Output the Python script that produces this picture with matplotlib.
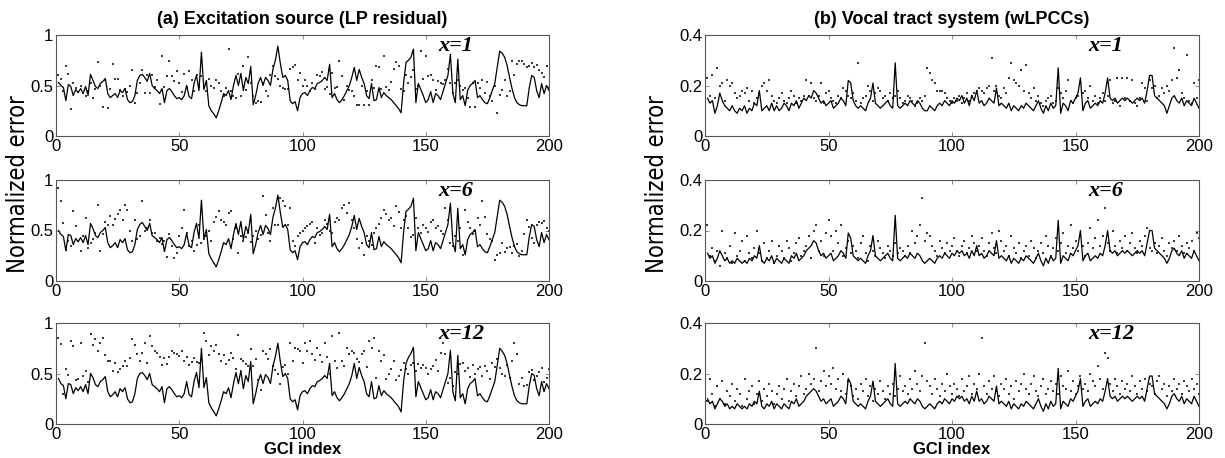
import matplotlib
matplotlib.use('Agg')
import matplotlib.pyplot as plt
from matplotlib import font_manager as fm
import numpy as np

# ---------------- data ----------------
gci = np.arange(1, 201)

# (a) Excitation source (LP residual)
lp_x1_line = [.53,.50,.48,.35,.51,.49,.40,.46,.43,.47, .42,.49,.40,.61,.55,.49,.47,.52,.54,.57,
              .42,.38,.40,.42,.38,.45,.43,.47,.36,.33, .34,.40,.55,.60,.61,.58,.54,.62,.50,.47,
              .45,.42,.47,.33,.45,.47,.44,.40,.37,.38, .36,.40,.50,.39,.37,.52,.60,.45,.83,.46,
              .55,.30,.25,.22,.18,.25,.33,.42,.40,.45, .36,.50,.60,.50,.62,.45,.58,.52,.69,.31,
              .40,.52,.58,.50,.58,.55,.50,.66,.75,.89, .72,.58,.60,.55,.35,.32,.34,.25,.38,.42,
              .43,.40,.45,.48,.47,.52,.53,.55,.58,.55, .71,.38,.42,.36,.33,.36,.40,.45,.50,.58,
              .68,.55,.66,.58,.52,.40,.37,.52,.35,.36, .48,.38,.43,.40,.38,.36,.33,.30,.27,.23,
              .52,.73,.75,.78,.86,.33,.52,.46,.40,.33, .36,.44,.33,.42,.40,.36,.44,.52,.60,.81,
              .42,.33,.76,.36,.40,.30,.45,.50,.52,.55, .38,.40,.36,.33,.32,.38,.45,.52,.68,.84,
              .82,.78,.70,.58,.47,.38,.33,.31,.30,.30, .30,.48,.60,.58,.45,.38,.52,.42,.50,.45]
lp_x1_dots = [.60,.56,.45,.69,.61,.27,.52,.48,.44,.50, .43,.40,.45,.52,.38,.47,.73,.50,.29,.55,
              .28,.47,.71,.56,.56,.46,.40,.47,.44,.50, .65,.33,.43,.52,.65,.43,.60,.43,.60,.49,
              .55,.32,.79,.49,.59,.74,.59,.54,.64,.52, .44,.61,.49,.64,.55,.45,.60,.49,.59,.49,
              .45,.56,.50,.48,.55,.52,.45,.40,.48,.86, .45,.40,.38,.61,.40,.69,.46,.78,.52,.40,
              .33,.35,.34,.52,.45,.40,.60,.69,.59,.56, .50,.48,.47,.47,.66,.68,.70,.55,.62,.50,
              .55,.50,.45,.52,.47,.60,.59,.63,.47,.49, .42,.62,.48,.49,.74,.59,.36,.50,.46,.45,
              .40,.31,.31,.50,.31,.45,.31,.55,.48,.69, .68,.47,.79,.49,.46,.53,.66,.73,.69,.47,
              .45,.60,.52,.58,.65,.47,.50,.84,.56,.79, .59,.60,.55,.46,.54,.52,.51,.55,.66,.52,
              .43,.52,.55,.50,.46,.48,.38,.29,.52,.29, .52,.48,.55,.43,.53,.40,.35,.50,.23,.41,
              .46,.55,.40,.45,.74,.60,.71,.74,.74,.71, .68,.69,.72,.68,.70,.65,.62,.58,.69,.48]
lp_x6_line = [.50,.46,.44,.30,.46,.45,.36,.42,.39,.43, .38,.45,.36,.57,.52,.45,.43,.48,.50,.53,
              .38,.33,.35,.38,.33,.41,.38,.42,.31,.28, .29,.36,.51,.56,.58,.54,.50,.57,.45,.43,
              .41,.38,.43,.29,.41,.43,.40,.36,.33,.34, .32,.36,.47,.35,.33,.48,.57,.42,.80,.42,
              .51,.27,.22,.18,.14,.21,.29,.38,.36,.42, .32,.46,.57,.46,.59,.41,.54,.48,.66,.27,
              .36,.48,.55,.46,.55,.52,.46,.63,.72,.85, .68,.53,.56,.51,.31,.28,.30,.21,.34,.38,
              .39,.36,.41,.44,.43,.48,.49,.51,.54,.51, .66,.34,.38,.32,.29,.32,.36,.41,.46,.54,
              .65,.51,.62,.54,.48,.36,.33,.48,.31,.32, .44,.34,.39,.36,.34,.32,.29,.26,.23,.18,
              .48,.69,.71,.74,.82,.30,.48,.42,.36,.30, .32,.40,.30,.38,.36,.32,.40,.48,.56,.77,
              .38,.29,.72,.32,.36,.26,.41,.46,.48,.51, .34,.36,.32,.29,.28,.34,.41,.48,.64,.80,
              .78,.74,.66,.54,.43,.34,.29,.27,.26,.26, .26,.44,.56,.54,.41,.34,.48,.38,.46,.41]
lp_x6_dots = [.92,.79,.57,.31,.40,.35,.69,.54,.40,.30, .45,.62,.33,.38,.42,.48,.75,.30,.47,.58,
              .55,.64,.55,.61,.66,.70,.60,.75,.70,.50, .40,.60,.42,.45,.79,.50,.52,.60,.48,.48,
              .40,.43,.37,.40,.24,.47,.35,.23,.28,.45, .52,.70,.48,.35,.40,.30,.36,.55,.38,.42,
              .45,.50,.40,.58,.63,.69,.60,.58,.55,.67, .69,.42,.52,.28,.45,.40,.44,.48,.39,.45,
              .50,.42,.46,.84,.65,.48,.40,.72,.55,.55, .82,.79,.74,.55,.72,.40,.35,.45,.48,.50,
              .52,.54,.56,.58,.38,.52,.46,.48,.60,.56, .50,.48,.58,.62,.60,.72,.75,.67,.77,.60,
              .52,.42,.33,.38,.26,.45,.40,.36,.48,.52, .56,.62,.70,.66,.60,.62,.54,.74,.68,.52,
              .60,.64,.52,.44,.46,.62,.52,.48,.55,.52, .49,.58,.60,.52,.54,.50,.47,.72,.60,.38,
              .35,.45,.40,.52,.26,.70,.58,.52,.47,.50, .62,.55,.79,.63,.47,.42,.40,.21,.26,.28,
              .38,.29,.33,.34,.28,.35,.37,.25,.30,.47, .60,.53,.43,.38,.55,.58,.57,.59,.52,.50]
lp_x12_line = [.45,.40,.38,.25,.40,.39,.30,.36,.33,.37, .32,.39,.30,.50,.46,.39,.37,.42,.44,.47,
               .32,.27,.29,.32,.27,.35,.32,.36,.25,.21, .22,.30,.45,.50,.51,.48,.44,.50,.39,.37,
               .35,.32,.37,.21,.35,.37,.34,.30,.27,.28, .26,.30,.42,.29,.27,.42,.51,.36,.75,.36,
               .46,.21,.16,.12,.08,.15,.23,.32,.30,.36, .26,.40,.51,.40,.53,.35,.48,.42,.62,.20,
               .30,.42,.49,.40,.49,.46,.40,.57,.67,.80, .62,.47,.50,.45,.25,.22,.24,.14,.28,.32,
               .33,.30,.35,.38,.37,.42,.43,.45,.48,.45, .60,.28,.32,.26,.23,.26,.30,.35,.40,.48,
               .60,.45,.56,.48,.42,.30,.27,.42,.25,.26, .38,.28,.33,.30,.28,.26,.23,.20,.17,.12,
               .42,.60,.66,.70,.76,.27,.42,.36,.30,.24, .26,.34,.24,.32,.30,.26,.34,.42,.50,.73,
               .32,.23,.68,.26,.30,.20,.35,.40,.42,.45, .28,.30,.26,.23,.22,.28,.35,.42,.58,.75,
               .72,.68,.60,.48,.37,.28,.23,.21,.20,.20, .20,.38,.50,.48,.35,.28,.42,.32,.40,.35]
lp_x12_dots = [.85,.79,.30,.54,.49,.82,.77,.44,.45,.80, .48,.52,.42,.89,.78,.84,.72,.80,.85,.68,
               .62,.62,.52,.60,.51,.54,.57,.62,.57,.65, .84,.78,.69,.62,.70,.80,.60,.87,.77,.72,
               .70,.66,.58,.65,.59,.66,.72,.70,.69,.67, .72,.62,.66,.58,.61,.65,.61,.60,.63,.90,
               .82,.68,.77,.72,.78,.69,.62,.68,.59,.63, .70,.65,.54,.88,.64,.62,.59,.57,.74,.57,
               .64,.44,.34,.72,.69,.64,.74,.57,.53,.50, .40,.56,.58,.50,.80,.62,.75,.74,.72,.60,
               .80,.72,.82,.69,.63,.75,.68,.61,.80,.66, .50,.87,.62,.55,.90,.62,.57,.75,.69,.72,
               .70,.64,.61,.69,.72,.56,.82,.75,.85,.46, .72,.62,.68,.45,.50,.54,.62,.44,.48,.53,
               .60,.54,.50,.58,.60,.52,.59,.55,.58,.55, .50,.54,.57,.63,.52,.70,.80,.69,.41,.46,
               .38,.51,.50,.59,.60,.52,.55,.47,.58,.50, .54,.56,.48,.57,.52,.45,.60,.56,.64,.55,
               .50,.48,.58,.46,.62,.80,.69,.40,.46,.38, .39,.51,.53,.44,.48,.51,.55,.42,.46,.54]

# (b) Vocal tract system (wLPCCs)
vt_x1_line = [.15,.13,.14,.09,.12,.17,.14,.12,.11,.10, .12,.10,.09,.11,.10,.12,.09,.11,.10,.13,
              .12,.18,.10,.11,.12,.10,.13,.10,.12,.10, .11,.13,.12,.10,.13,.12,.14,.11,.13,.15,
              .14,.16,.15,.18,.17,.15,.13,.14,.12,.13, .14,.11,.12,.13,.15,.14,.12,.22,.21,.14,
              .12,.11,.12,.11,.10,.13,.15,.21,.13,.12, .11,.12,.13,.14,.12,.11,.29,.12,.11,.12,
              .13,.12,.14,.13,.12,.14,.13,.11,.10,.10, .12,.11,.10,.12,.13,.12,.14,.13,.12,.14,
              .13,.15,.14,.16,.13,.15,.12,.16,.14,.18, .13,.14,.12,.13,.15,.14,.13,.19,.12,.13,
              .12,.11,.13,.10,.12,.11,.10,.12,.11,.13, .12,.11,.10,.12,.14,.11,.09,.12,.10,.13,
              .11,.12,.27,.09,.13,.12,.10,.14,.13,.15, .17,.23,.10,.13,.14,.11,.12,.13,.12,.14,
              .13,.17,.23,.15,.14,.15,.13,.14,.15,.14, .15,.14,.13,.14,.15,.14,.15,.13,.18,.24,
              .24,.16,.15,.14,.13,.12,.09,.12,.15,.16, .14,.13,.15,.12,.14,.13,.12,.15,.13,.11]
vt_x1_dots = [.23,.16,.24,.15,.27,.20,.21,.14,.22,.20, .21,.17,.15,.16,.18,.17,.19,.14,.18,.13,
              .15,.17,.20,.21,.18,.22,.16,.14,.13,.15, .17,.14,.13,.15,.18,.16,.13,.15,.14,.16,
              .22,.16,.21,.15,.14,.16,.21,.13,.17,.18, .15,.14,.13,.16,.15,.19,.18,.16,.15,.17,
              .14,.29,.13,.15,.16,.20,.18,.14,.17,.19, .18,.15,.16,.14,.17,.15,.16,.18,.15,.13,
              .14,.16,.15,.14,.12,.13,.15,.14,.16,.27, .25,.22,.21,.18,.18,.18,.17,.15,.14,.13,
              .15,.14,.16,.13,.15,.17,.14,.16,.17,.18, .19,.18,.17,.19,.20,.31,.18,.20,.16,.15,
              .19,.17,.23,.29,.22,.21,.20,.26,.18,.28, .17,.15,.19,.14,.16,.13,.12,.14,.15,.16,
              .13,.14,.19,.17,.15,.18,.22,.14,.13,.15, .16,.21,.17,.18,.15,.20,.14,.16,.13,.15,
              .17,.14,.16,.22,.13,.14,.23,.12,.23,.15, .23,.14,.22,.13,.12,.15,.21,.19,.14,.22,
              .19,.20,.15,.16,.19,.17,.20,.18,.22,.35, .23,.26,.17,.15,.32,.14,.13,.21,.15,.22]
vt_x6_line = [.11,.09,.10,.07,.09,.12,.10,.08,.09,.07, .08,.07,.09,.08,.07,.08,.07,.09,.08,.10,
              .09,.14,.08,.07,.09,.08,.10,.07,.09,.08, .07,.09,.08,.07,.10,.09,.11,.08,.09,.10,
              .12,.13,.14,.16,.15,.12,.10,.11,.09,.10, .11,.08,.09,.10,.12,.11,.09,.19,.17,.10,
              .09,.08,.09,.08,.07,.10,.12,.18,.10,.09, .08,.09,.10,.11,.09,.08,.26,.09,.08,.09,
              .10,.09,.11,.10,.09,.11,.10,.08,.07,.08, .09,.08,.07,.09,.10,.09,.11,.10,.09,.11,
              .10,.12,.11,.12,.10,.11,.09,.12,.10,.14, .10,.11,.09,.10,.12,.11,.10,.16,.09,.10,
              .09,.08,.10,.07,.09,.08,.07,.09,.08,.10, .09,.08,.07,.09,.11,.08,.06,.09,.07,.10,
              .08,.09,.24,.07,.10,.09,.08,.11,.10,.12, .14,.20,.08,.10,.11,.08,.09,.10,.09,.11,
              .10,.14,.20,.12,.11,.12,.10,.11,.12,.11, .12,.11,.10,.11,.12,.11,.12,.10,.15,.20,
              .20,.13,.12,.11,.10,.09,.07,.09,.12,.13, .11,.10,.12,.09,.11,.10,.09,.12,.10,.08]
vt_x6_dots = [.22,.10,.13,.08,.12,.06,.20,.11,.09,.14, .07,.19,.10,.12,.16,.08,.18,.11,.09,.13,
              .20,.11,.08,.15,.09,.12,.16,.07,.10,.14, .12,.09,.16,.13,.08,.11,.15,.17,.10,.12,
              .14,.18,.09,.20,.22,.12,.16,.10,.19,.24, .18,.12,.20,.15,.22,.10,.13,.16,.11,.14,
              .12,.09,.15,.18,.11,.08,.14,.12,.10,.16, .13,.11,.09,.14,.12,.10,.15,.11,.13,.12,
              .10,.14,.11,.20,.15,.18,.22,.33,.16,.19, .18,.14,.12,.10,.16,.13,.11,.15,.12,.14,
              .17,.12,.10,.14,.16,.11,.13,.18,.15,.12, .14,.17,.12,.10,.15,.19,.13,.11,.20,.16,
              .12,.14,.10,.18,.13,.11,.15,.09,.12,.14, .10,.16,.13,.09,.12,.15,.11,.18,.14,.10,
              .13,.17,.12,.15,.19,.11,.14,.22,.13,.16, .12,.18,.14,.10,.15,.21,.13,.17,.24,.14,
              .18,.29,.15,.12,.20,.14,.11,.16,.13,.18, .12,.15,.19,.13,.11,.16,.14,.18,.21,.13,
              .12,.15,.11,.14,.17,.12,.10,.15,.13,.16, .12,.18,.14,.11,.15,.13,.16,.12,.19,.17]
vt_x12_line = [.10,.08,.09,.06,.08,.10,.09,.07,.08,.06, .07,.06,.08,.07,.06,.07,.06,.08,.07,.09,
               .08,.13,.07,.06,.08,.07,.09,.06,.08,.07, .06,.08,.07,.06,.09,.08,.10,.07,.08,.09,
               .11,.12,.13,.14,.13,.11,.09,.10,.08,.09, .10,.07,.08,.09,.11,.10,.08,.18,.16,.09,
               .08,.07,.08,.07,.06,.09,.11,.17,.09,.08, .07,.08,.09,.10,.08,.07,.24,.08,.07,.08,
               .09,.08,.10,.09,.08,.10,.09,.07,.06,.07, .08,.07,.06,.08,.09,.08,.10,.09,.08,.10,
               .09,.11,.10,.11,.09,.10,.08,.11,.09,.13, .09,.10,.08,.09,.11,.10,.09,.15,.08,.09,
               .08,.07,.09,.06,.08,.07,.06,.08,.07,.09, .08,.07,.06,.08,.10,.07,.05,.08,.06,.09,
               .07,.08,.22,.06,.09,.08,.07,.10,.09,.11, .13,.18,.07,.09,.10,.07,.08,.09,.08,.10,
               .09,.13,.18,.11,.10,.11,.09,.10,.11,.10, .11,.10,.09,.10,.11,.10,.11,.09,.14,.19,
               .19,.12,.11,.10,.09,.08,.06,.08,.11,.12, .10,.09,.11,.08,.10,.09,.08,.11,.09,.07]
vt_x12_dots = [.09,.18,.12,.07,.15,.10,.17,.08,.13,.11, .16,.09,.14,.12,.07,.18,.10,.13,.15,.08,
               .12,.17,.09,.14,.11,.16,.13,.08,.12,.15, .10,.14,.18,.09,.13,.16,.11,.15,.19,.12,
               .14,.20,.16,.18,.30,.13,.17,.21,.15,.19, .16,.22,.14,.18,.13,.20,.12,.17,.15,.11,
               .14,.10,.16,.13,.18,.11,.15,.09,.14,.12, .17,.13,.10,.15,.12,.16,.11,.14,.19,.13,
               .15,.12,.18,.14,.21,.16,.13,.19,.32,.17, .15,.12,.18,.14,.11,.16,.13,.20,.15,.12,
               .16,.14,.11,.18,.13,.15,.19,.12,.16,.14, .20,.34,.15,.12,.17,.14,.19,.13,.11,.16,
               .14,.18,.12,.15,.10,.17,.13,.16,.20,.14, .12,.16,.19,.13,.11,.15,.18,.12,.14,.17,
               .13,.16,.12,.19,.15,.14,.21,.13,.17,.12, .15,.19,.14,.16,.13,.20,.17,.15,.23,.18,
               .14,.28,.26,.16,.13,.18,.15,.12,.17,.14, .16,.13,.19,.15,.12,.17,.14,.18,.13,.16,
               .15,.12,.17,.19,.14,.16,.11,.15,.13,.18, .14,.16,.12,.17,.15,.13,.18,.14,.16,.12]

x_labels = ['x=1', 'x=6', 'x=12']
titles = ['(a) Excitation source (LP residual)', '(b) Vocal tract system (wLPCCs)']
xticks = [0, 50, 100, 150, 200]
left_yticks = [0, 0.5, 1]
left_yticklabels = ['0', '0.5', '1']
right_yticks = [0, 0.2, 0.4]
right_yticklabels = ['0', '0.2', '0.4']

# ---------------- fonts ----------------
names = {f.name for f in fm.fontManager.ttflist}
def pick(*cands):
    for c in cands:
        if c in names:
            return c
    return 'DejaVu Sans'
SANS = pick('Liberation Sans', 'Arial', 'DejaVu Sans')
SERIF = pick('Liberation Serif', 'DejaVu Serif')
if 'Liberation Sans Narrow' in names:
    NARROW, NSTRETCH = 'Liberation Sans Narrow', 'normal'
else:
    NARROW, NSTRETCH = 'DejaVu Sans', 'condensed'

# ---------------- figure ----------------
W, H = 1225, 458
fig = plt.figure(figsize=(W / 100, H / 100), dpi=100)

def px_axes(x0, x1, y0, y1):
    return fig.add_axes([x0 / W, 1 - y1 / H, (x1 - x0) / W, (y1 - y0) / H])

rows_y = [(35, 136), (180, 281), (323, 424)]
cols_x = [(56, 549), (705, 1199)]

left_data = [(lp_x1_line, lp_x1_dots), (lp_x6_line, lp_x6_dots), (lp_x12_line, lp_x12_dots)]
right_data = [(vt_x1_line, vt_x1_dots), (vt_x6_line, vt_x6_dots), (vt_x12_line, vt_x12_dots)]

for col, (data, ymax, yt, ytl) in enumerate([
        (left_data, 1.0, left_yticks, left_yticklabels),
        (right_data, 0.4, right_yticks, right_yticklabels)]):
    for row, (line, dots) in enumerate(data):
        ax = px_axes(cols_x[col][0], cols_x[col][1], rows_y[row][0], rows_y[row][1])
        ax.plot(gci, line, color='black', lw=0.9)
        ax.plot(gci, dots, ls='none', marker='_', ms=1.7, mew=1.1, color='black')
        ax.set_xlim(0, 200)
        ax.set_ylim(0, ymax)
        ax.set_xticks(xticks)
        ax.set_xticklabels([str(t) for t in xticks], family=SANS, fontsize=12)
        ax.set_yticks(yt)
        ax.set_yticklabels(ytl, family=SANS, fontsize=12)
        ax.tick_params(direction='in', top=True, right=True, length=3, width=0.6,
                       color='#777777', pad=2)
        for sp in ax.spines.values():
            sp.set_color('#555555')
            sp.set_linewidth(0.8)
        ax.text(155, ymax * 0.84, x_labels[row], family=SERIF, fontweight='bold',
                style='italic', fontsize=16, ha='left', va='baseline')
        if row == 0:
            ax.set_title(titles[col], family=SANS, fontweight='bold', fontsize=13, pad=8)

# x-axis labels under the bottom row, placed just below the tick labels
for xc in cols_x:
    fig.text(((xc[0] + xc[1]) / 2) / W, 1 - 457 / H, 'GCI index', family=SANS,
             fontweight='bold', fontsize=12, ha='center', va='bottom')

for xpix in (18, 657):
    fig.text(xpix / W, 1 - 184 / H, 'Normalized error', family=NARROW, stretch=NSTRETCH,
             fontsize=17, rotation=90, ha='center', va='center')

fig.savefig('out.png', dpi=100)
